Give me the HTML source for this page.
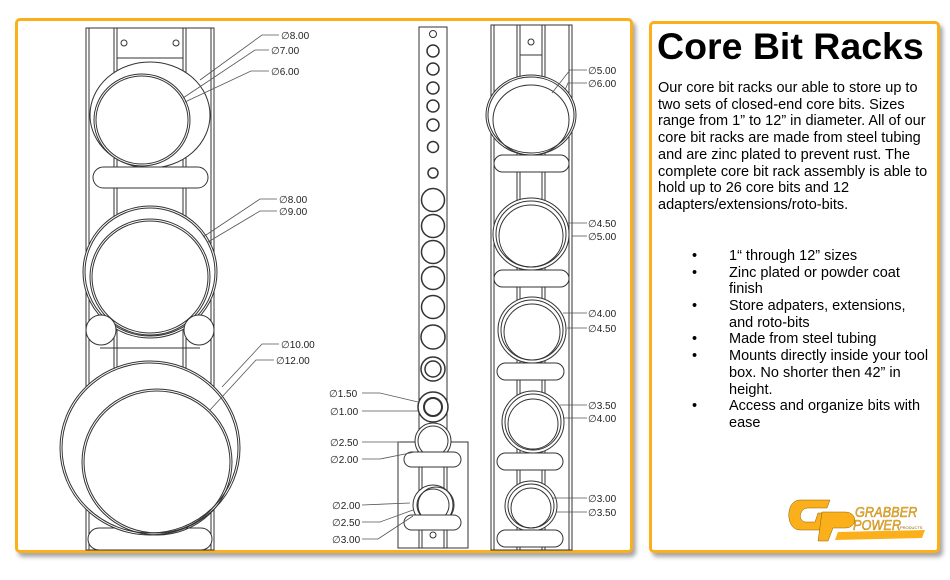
<!DOCTYPE html>
<html><head><meta charset="utf-8"><style>
html,body{margin:0;padding:0;background:#fff;}
body{width:950px;height:580px;overflow:hidden;position:relative;font-family:"Liberation Sans",Arial,sans-serif;}
.panel{position:absolute;border:3px solid #fbb01b;border-radius:5px;background:#fff;box-shadow:3px 4px 4px rgba(0,0,0,0.35);box-sizing:border-box;}
svg{position:absolute;left:0;top:0;}
.t{position:absolute;left:658px;color:#000;font-size:14.5px;line-height:16.7px;white-space:nowrap;}
.b{position:absolute;left:692px;font-size:14.5px;line-height:16.7px;white-space:nowrap;}
.b div{position:relative;height:16.7px;}
.b span{position:absolute;left:37px;top:0;}
</style></head><body>
<div class="panel" style="left:15px;top:18px;width:618px;height:535px;"></div>
<div class="panel" style="left:649px;top:21px;width:291px;height:532px;"></div>

<svg width="950" height="580" viewBox="0 0 950 580" fill="none" stroke="#333" stroke-width="1">
<g>
<rect x="86" y="28" width="128" height="522"/>
<line x1="89" y1="28" x2="89" y2="550"/><line x1="211" y1="28" x2="211" y2="550"/>
<line x1="114" y1="28" x2="114" y2="550"/><line x1="117" y1="28" x2="117" y2="550"/>
<line x1="183" y1="28" x2="183" y2="550"/><line x1="186" y1="28" x2="186" y2="550"/>
<rect x="117" y="28" width="66" height="30" fill="#fff"/>
<circle cx="124" cy="43" r="3"/><circle cx="176" cy="43" r="3"/>
<ellipse cx="150" cy="115" rx="60" ry="53" fill="#fff"/>
<ellipse cx="142" cy="120" rx="48" ry="46" fill="#fff"/>
<ellipse cx="142" cy="120" rx="46" ry="44"/>
<rect x="93" y="167" width="115" height="21" rx="10.5" fill="#fff"/>
<ellipse cx="150" cy="272" rx="67" ry="66" fill="#fff"/>
<ellipse cx="150" cy="272" rx="65" ry="64"/>
<ellipse cx="150" cy="277" rx="60" ry="58"/>
<ellipse cx="150" cy="277" rx="58" ry="56"/>
<line x1="100" y1="348" x2="200" y2="348"/>
<circle cx="101" cy="330" r="15" fill="#fff"/><circle cx="199" cy="330" r="15" fill="#fff"/>
<rect x="88" y="528" width="124" height="22" rx="11" fill="#fff"/>
<ellipse cx="150" cy="448" rx="90" ry="87" fill="#fff"/>
<ellipse cx="150" cy="448" rx="88" ry="85"/>
<ellipse cx="157" cy="462" rx="75" ry="73"/>
<ellipse cx="157" cy="462" rx="73" ry="71"/>
</g>
<g stroke="#555" stroke-width="0.8">
<polyline points="279,35 262,35 200,80"/>
<polyline points="269,50 255,50 183,98"/>
<polyline points="269,71 251,71 185,102"/>
<polyline points="277,199 260,199 203,237"/>
<polyline points="277,211 260,211 208,242"/>
<polyline points="279,344 262,344 222,387"/>
<polyline points="274,360 256,360 210,410"/>
</g>
<g fill="#222" stroke="none" font-family="Liberation Sans, sans-serif" font-size="10">
<text x="281" y="39">∅8.00</text>
<text x="271" y="54">∅7.00</text>
<text x="271" y="75">∅6.00</text>
<text x="279" y="203">∅8.00</text>
<text x="279" y="215">∅9.00</text>
<text x="281" y="348">∅10.00</text>
<text x="276" y="364">∅12.00</text>
</g>

<g>
<rect x="398" y="442" width="70" height="106"/>
<rect x="419" y="27" width="28" height="521" fill="#fff"/>
<line x1="422" y1="440" x2="422" y2="548"/><line x1="444" y1="440" x2="444" y2="548"/>
<circle cx="433" cy="34" r="3.5"/>
<g stroke-width="1.5">
<circle cx="433" cy="51" r="6"/><circle cx="433" cy="69" r="6"/><circle cx="433" cy="88" r="6"/>
<circle cx="433" cy="106" r="6"/><circle cx="433" cy="125" r="6"/><circle cx="433" cy="147" r="5.5"/>
<circle cx="433" cy="173" r="5"/>
<circle cx="433" cy="200" r="11.5"/><circle cx="433" cy="226" r="11.5"/><circle cx="433" cy="252" r="11.5"/>
<circle cx="433" cy="278" r="11.5"/><circle cx="433" cy="307" r="11.5"/><circle cx="433" cy="337" r="12"/>
<circle cx="433" cy="369" r="12"/><circle cx="433" cy="369" r="8"/>
</g>
<circle cx="433" cy="407" r="15" fill="#fff" stroke-width="1.5"/><circle cx="433" cy="407" r="9" stroke-width="2"/>
<circle cx="433" cy="441" r="18" fill="#fff"/><circle cx="433" cy="441" r="15"/>
<rect x="404" y="452" width="57" height="15" rx="7.5" fill="#fff"/>
<circle cx="433" cy="505" r="20" fill="#fff"/><circle cx="433" cy="505" r="16"/><circle cx="436" cy="505" r="18"/>
<rect x="404" y="515" width="57" height="15" rx="7.5" fill="#fff"/>
<circle cx="433" cy="535" r="3"/>
</g>
<g stroke="#555" stroke-width="0.8">
<polyline points="362,393 380,393 418,402"/>
<polyline points="362,411 418,411"/>
<polyline points="362,442 400,442"/>
<polyline points="362,459 380,459 415,452"/>
<polyline points="362,505 410,503"/>
<polyline points="362,522 380,522 413,510"/>
<polyline points="362,539 378,539 413,516"/>
</g>
<g fill="#222" stroke="none" font-family="Liberation Sans, sans-serif" font-size="10">
<text x="329" y="397">∅1.50</text>
<text x="330" y="415">∅1.00</text>
<text x="330" y="446">∅2.50</text>
<text x="330" y="463">∅2.00</text>
<text x="332" y="509">∅2.00</text>
<text x="332" y="526">∅2.50</text>
<text x="332" y="543">∅3.00</text>
</g>

<g>
<rect x="491" y="25" width="81" height="525"/>
<line x1="494" y1="25" x2="494" y2="550"/><line x1="569" y1="25" x2="569" y2="550"/>
<line x1="517" y1="25" x2="517" y2="550"/><line x1="520" y1="25" x2="520" y2="550"/>
<line x1="542" y1="25" x2="542" y2="550"/><line x1="545" y1="25" x2="545" y2="550"/>
<line x1="520" y1="55" x2="542" y2="55"/>
<circle cx="531" cy="42" r="3"/>
<ellipse cx="531" cy="115" rx="45" ry="40" fill="#fff"/><ellipse cx="531" cy="115" rx="43" ry="38"/><ellipse cx="531" cy="120" rx="38" ry="35"/>
<rect x="494" y="155" width="75" height="17" rx="8.5" fill="#fff"/>
<ellipse cx="531" cy="234" rx="38" ry="36" fill="#fff"/><ellipse cx="531" cy="234" rx="35" ry="33"/><ellipse cx="531" cy="236" rx="32" ry="31"/>
<rect x="494" y="270" width="75" height="17" rx="8.5" fill="#fff"/>
<ellipse cx="532" cy="330" rx="34" ry="33" fill="#fff"/><ellipse cx="532" cy="330" rx="31" ry="30"/><ellipse cx="532" cy="332" rx="28" ry="28"/>
<rect x="497" y="363" width="67" height="17" rx="8.5" fill="#fff"/>
<ellipse cx="533" cy="422" rx="31" ry="31" fill="#fff"/><ellipse cx="533" cy="422" rx="28" ry="28"/><ellipse cx="533" cy="424" rx="25" ry="25"/>
<rect x="497" y="453" width="66" height="17" rx="8.5" fill="#fff"/>
<ellipse cx="531" cy="506" rx="26" ry="25" fill="#fff"/><ellipse cx="531" cy="506" rx="23" ry="22"/><ellipse cx="531" cy="508" rx="20" ry="20"/>
<rect x="497" y="530" width="66" height="17" rx="8.5" fill="#fff"/>
</g>
<g stroke="#555" stroke-width="0.8">
<polyline points="587,70 570,70 552,93"/>
<polyline points="587,83 568,83 565,90"/>
<line x1="567" y1="223" x2="587" y2="223"/><line x1="572" y1="236" x2="587" y2="236"/>
<line x1="563" y1="313" x2="587" y2="313"/><line x1="567" y1="328" x2="587" y2="328"/>
<line x1="560" y1="405" x2="587" y2="405"/><line x1="563" y1="418" x2="587" y2="418"/>
<line x1="553" y1="498" x2="587" y2="498"/><line x1="557" y1="512" x2="587" y2="512"/>
</g>
<g fill="#222" stroke="none" font-family="Liberation Sans, sans-serif" font-size="10">
<text x="588" y="74">∅5.00</text><text x="588" y="87">∅6.00</text>
<text x="588" y="227">∅4.50</text><text x="588" y="240">∅5.00</text>
<text x="588" y="317">∅4.00</text><text x="588" y="332">∅4.50</text>
<text x="588" y="409">∅3.50</text><text x="588" y="422">∅4.00</text>
<text x="588" y="502">∅3.00</text><text x="588" y="516">∅3.50</text>
</g>

<g stroke="none" fill="#fbb01b">
<path d="M800 500 L830 500 L827 508 L808 508 C800 508 797 520 805 522 L815 522 L818 513 L828 513 L822 530 L800 530 C785 530 785 500 800 500 Z" stroke="#8a6000" stroke-width="0.5"/>
<path d="M822 512 L845 512 C858 512 858 528 845 528 L833 528 L828 541 L818 541 Z" stroke="#8a6000" stroke-width="0.5"/>
<polygon points="838,532 925,530 922,538 835,540"/>
<text x="855" y="517" font-family="Liberation Sans, sans-serif" font-size="15" font-style="italic" transform="scale(0.85,1)" style="transform-origin:855px 517px" stroke="#8a6000" stroke-width="0.3">GRABBER</text>
<text x="853" y="530" font-family="Liberation Sans, sans-serif" font-size="15" font-style="italic" transform="scale(0.85,1)" style="transform-origin:853px 530px" stroke="#8a6000" stroke-width="0.3">POWER</text>
<text x="900" y="529" font-family="Liberation Sans, sans-serif" font-size="4" fill="#8a6000">PRODUCTS</text>
</g>
</svg>

<div style="position:absolute;left:657px;top:25px;font-size:37.5px;font-weight:bold;white-space:nowrap;">Core Bit Racks</div>
<div class="t" style="top:80px;">Our core bit racks our able to store up to<br>two sets of closed-end core bits. Sizes<br>range from 1” to 12” in diameter. All of our<br>core bit racks are made from steel tubing<br>and are zinc plated to prevent rust. The<br>complete core bit rack assembly is able to<br>hold up to 26 core bits and 12<br>adapters/extensions/roto-bits.</div>
<div class="b" style="top:248px;">
<div>•<span>1“ through 12” sizes</span></div>
<div>•<span>Zinc plated or powder coat</span></div>
<div><span>finish</span></div>
<div>•<span>Store adpaters, extensions,</span></div>
<div><span>and roto-bits</span></div>
<div>•<span>Made from steel tubing</span></div>
<div>•<span>Mounts directly inside your tool</span></div>
<div><span>box. No shorter then 42” in</span></div>
<div><span>height.</span></div>
<div>•<span>Access and organize bits with</span></div>
<div><span>ease</span></div>
</div>
</body></html>
